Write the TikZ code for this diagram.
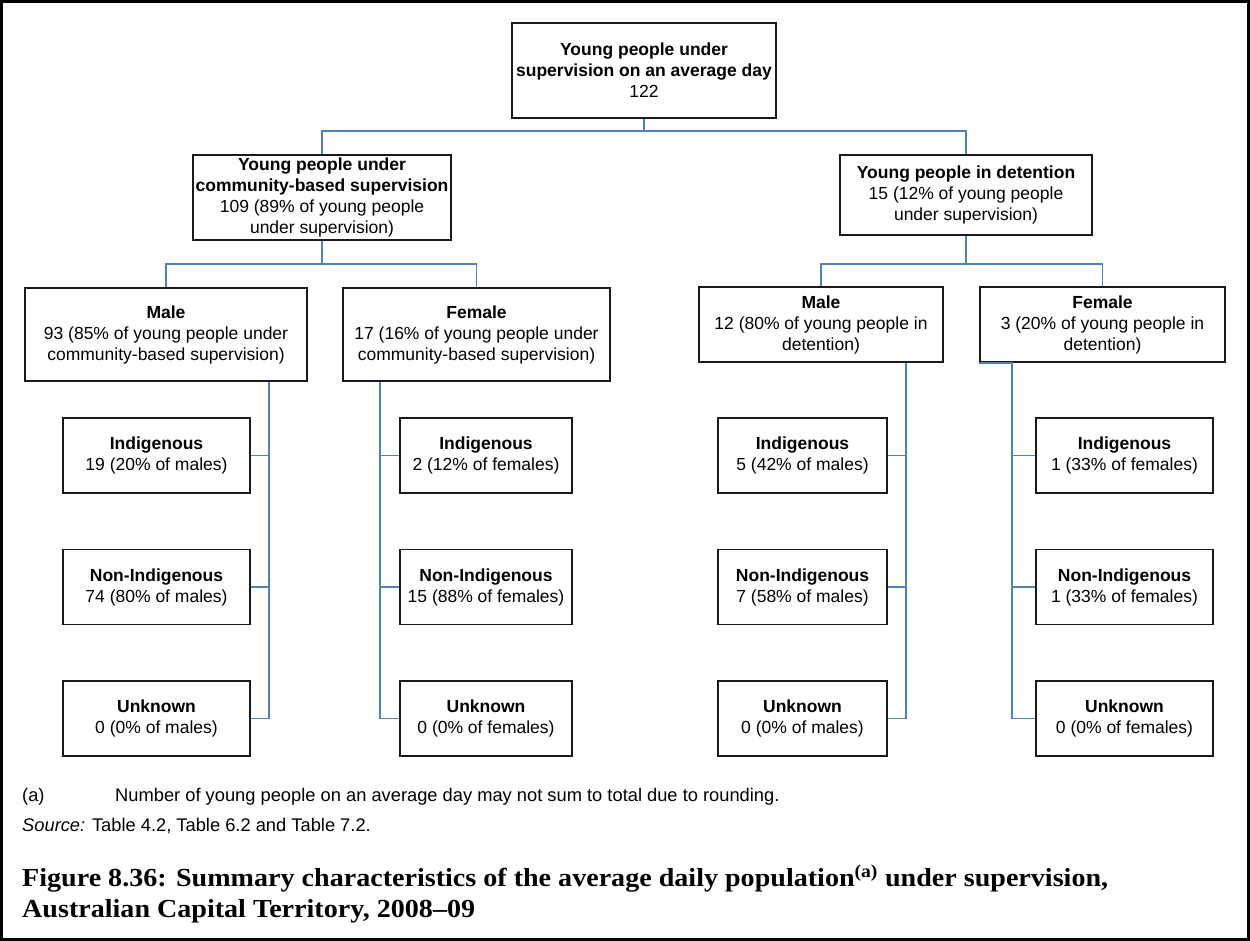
\documentclass[tikz,border=0pt]{standalone}
\usepackage{fontspec}
\setmainfont{Liberation Sans}
\newfontfamily\titlefont[FakeStretch=1.08]{Liberation Serif}
\definecolor{connblue}{RGB}{79,129,189}
\begin{document}
\begin{tikzpicture}[x=1pt,y=-1pt,
  box/.style={draw=black!90,line width=1.5pt,fill=white,rectangle,inner sep=0pt,align=center,
    font=\fontsize{17.5}{21}\selectfont},
  conn/.style={draw=connblue,line width=1.8pt},
  foot/.style={inner sep=0pt,anchor=west,font=\fontsize{18.3}{22}\selectfont}]
\useasboundingbox (0,0) rectangle (1250,941);
\fill[white] (0,0) rectangle (1250,941);
\draw[line width=3pt] (1.5,1.5) rectangle (1248.5,939.5);

% level 0-1
\node[box,minimum width=264pt,minimum height=95pt] (top) at (644,70.5)
  {\textbf{Young people under}\\\textbf{supervision on an average day}\\122};
\node[box,minimum width=258pt,minimum height=85pt] (cb) at (322,197.5)
  {\textbf{Young people under}\\\textbf{community-based supervision}\\109 (89\% of young people\\under supervision)};
\node[box,minimum width=252pt,minimum height=80pt] (det) at (966,195)
  {\textbf{Young people in detention}\\15 (12\% of young people\\under supervision)};

% level 2
\node[box,minimum width=282pt,minimum height=93pt] (mcb) at (166,334.5)
  {\textbf{Male}\\93 (85\% of young people under\\community-based supervision)};
\node[box,minimum width=267pt,minimum height=93pt] (fcb) at (476.5,334.5)
  {\textbf{Female}\\17 (16\% of young people under\\community-based supervision)};
\node[box,minimum width=244pt,minimum height=75pt] (mdet) at (821,324.5)
  {\textbf{Male}\\12 (80\% of young people in\\detention)};
\node[box,minimum width=245pt,minimum height=75pt] (fdet) at (1102.5,324.5)
  {\textbf{Female}\\3 (20\% of young people in\\detention)};

% leaves
\node[box,minimum width=187pt,minimum height=75pt] (l1a) at (156.5,455.5) {\textbf{Indigenous}\\19 (20\% of males)};
\node[box,minimum width=187pt,minimum height=75pt] (l1b) at (156.5,587) {\textbf{Non-Indigenous}\\74 (80\% of males)};
\node[box,minimum width=187pt,minimum height=75pt] (l1c) at (156.5,718.5) {\textbf{Unknown}\\0 (0\% of males)};

\node[box,minimum width=172pt,minimum height=75pt] (l2a) at (486,455.5) {\textbf{Indigenous}\\2 (12\% of females)};
\node[box,minimum width=172pt,minimum height=75pt] (l2b) at (486,587) {\textbf{Non-Indigenous}\\15 (88\% of females)};
\node[box,minimum width=172pt,minimum height=75pt] (l2c) at (486,718.5) {\textbf{Unknown}\\0 (0\% of females)};

\node[box,minimum width=169pt,minimum height=75pt] (l3a) at (802.5,455.5) {\textbf{Indigenous}\\5 (42\% of males)};
\node[box,minimum width=169pt,minimum height=75pt] (l3b) at (802.5,587) {\textbf{Non-Indigenous}\\7 (58\% of males)};
\node[box,minimum width=169pt,minimum height=75pt] (l3c) at (802.5,718.5) {\textbf{Unknown}\\0 (0\% of males)};

\node[box,minimum width=177pt,minimum height=75pt] (l4a) at (1124.5,455.5) {\textbf{Indigenous}\\1 (33\% of females)};
\node[box,minimum width=177pt,minimum height=75pt] (l4b) at (1124.5,587) {\textbf{Non-Indigenous}\\1 (33\% of females)};
\node[box,minimum width=177pt,minimum height=75pt] (l4c) at (1124.5,718.5) {\textbf{Unknown}\\0 (0\% of females)};

% connectors level 0-1
\draw[conn] (top.south) -- ++(0,12) -| (cb.north);
\draw[conn] (top.south) -- ++(0,12) -| (det.north);
% level 1-2
\draw[conn] (cb.south) -- ++(0,23) -| (mcb.north);
\draw[conn] (cb.south) -- ++(0,23) -| (fcb.north);
\draw[conn] (det.south) -- ++(0,28) -| (mdet.north);
\draw[conn] (det.south) -- ++(0,28) -| (fdet.north);
% level 2-3
\draw[conn] ([xshift=18pt]l1a.east |- mcb.south) -- ([xshift=18pt]l1c.east) -- (l1c.east);
\draw[conn] ([xshift=18pt]l1a.east) -- (l1a.east);
\draw[conn] ([xshift=18pt]l1b.east) -- (l1b.east);

\draw[conn] ([xshift=-19pt]l2a.west |- fcb.south) -- ([xshift=-19pt]l2c.west) -- (l2c.west);
\draw[conn] ([xshift=-19pt]l2a.west) -- (l2a.west);
\draw[conn] ([xshift=-19pt]l2b.west) -- (l2b.west);

\draw[conn] ([xshift=18pt]l3a.east |- mdet.south) -- ([xshift=18pt]l3c.east) -- (l3c.east);
\draw[conn] ([xshift=18pt]l3a.east) -- (l3a.east);
\draw[conn] ([xshift=18pt]l3b.east) -- (l3b.east);

\draw[conn] (fdet.south west) -- ([xshift=-23pt]l4a.west |- fdet.south) -- ([xshift=-23pt]l4c.west) -- (l4c.west);
\draw[conn] ([xshift=-23pt]l4a.west) -- (l4a.west);
\draw[conn] ([xshift=-23pt]l4b.west) -- (l4b.west);

% footer
\node[foot] (fa) at (22,797) {(a)};
\node[foot] (fn) at (115,797) {Number of young people on an average day may not sum to total due to rounding.};
\node[foot] (src) at (22,826) {\textit{Source:} Table 4.2, Table 6.2 and Table 7.2.};
\node[inner sep=0pt,anchor=west,align=left,font=\titlefont\bfseries\fontsize{26}{31}\selectfont] (title) at (22,893.5)
  {Figure 8.36: Summary characteristics of the average daily population\textsuperscript{(a)} under supervision,\\Australian Capital Territory, 2008–09};
\end{tikzpicture}
\end{document}
